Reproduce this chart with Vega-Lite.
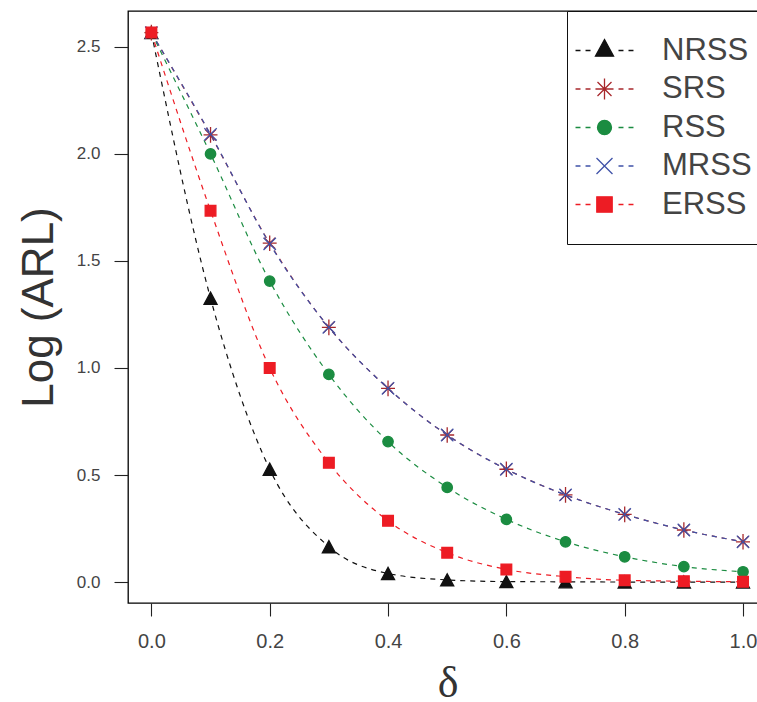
{
  "$schema": "https://vega.github.io/schema/vega-lite/v6.json",
  "width": 631,
  "height": 592,
  "autosize": {"type": "none"},
  "padding": {"left": 128, "top": 11, "right": 0, "bottom": 99},
  "background": "white",
  "config": {
    "font": "Liberation Sans",
    "view": {"stroke": "black", "strokeWidth": 1.3},
    "axis": {"grid": false, "domain": false, "tickColor": "#222", "tickWidth": 1.1, "labelColor": "#444", "titleColor": "#333", "titleFontWeight": "normal"},
    "legend": {
      "orient": "none", "legendX": 439, "legendY": 0, "title": null,
      "strokeColor": "#111", "fillColor": "white", "padding": 24,
      "labelFontSize": 31, "labelColor": "#444", "labelOffset": 42, "symbolOffset": -2,
      "rowPadding": 6.5, "symbolSize": 196, "symbolStrokeWidth": 1.3, "symbolOpacity": 1
    }
  },
  "data": {"values": [
    {"d": 0.0, "v": 2.567, "s": "NRSS"}, {"d": 0.1, "v": 1.326, "s": "NRSS"}, {"d": 0.2, "v": 0.527, "s": "NRSS"}, {"d": 0.3, "v": 0.165, "s": "NRSS"}, {"d": 0.4, "v": 0.04, "s": "NRSS"}, {"d": 0.5, "v": 0.01, "s": "NRSS"}, {"d": 0.6, "v": 0.002, "s": "NRSS"}, {"d": 0.7, "v": 0.001, "s": "NRSS"}, {"d": 0.8, "v": 0.0, "s": "NRSS"}, {"d": 0.9, "v": 0.0, "s": "NRSS"}, {"d": 1.0, "v": 0.0, "s": "NRSS"},
    {"d": 0.0, "v": 2.567, "s": "SRS"}, {"d": 0.1, "v": 2.089, "s": "SRS"}, {"d": 0.2, "v": 1.583, "s": "SRS"}, {"d": 0.3, "v": 1.19, "s": "SRS"}, {"d": 0.4, "v": 0.905, "s": "SRS"}, {"d": 0.5, "v": 0.687, "s": "SRS"}, {"d": 0.6, "v": 0.527, "s": "SRS"}, {"d": 0.7, "v": 0.407, "s": "SRS"}, {"d": 0.8, "v": 0.316, "s": "SRS"}, {"d": 0.9, "v": 0.243, "s": "SRS"}, {"d": 1.0, "v": 0.188, "s": "SRS"},
    {"d": 0.0, "v": 2.567, "s": "RSS"}, {"d": 0.1, "v": 2.0, "s": "RSS"}, {"d": 0.2, "v": 1.406, "s": "RSS"}, {"d": 0.3, "v": 0.97, "s": "RSS"}, {"d": 0.4, "v": 0.656, "s": "RSS"}, {"d": 0.5, "v": 0.442, "s": "RSS"}, {"d": 0.6, "v": 0.293, "s": "RSS"}, {"d": 0.7, "v": 0.188, "s": "RSS"}, {"d": 0.8, "v": 0.118, "s": "RSS"}, {"d": 0.9, "v": 0.072, "s": "RSS"}, {"d": 1.0, "v": 0.048, "s": "RSS"},
    {"d": 0.0, "v": 2.567, "s": "MRSS"}, {"d": 0.1, "v": 2.092, "s": "MRSS"}, {"d": 0.2, "v": 1.58, "s": "MRSS"}, {"d": 0.3, "v": 1.19, "s": "MRSS"}, {"d": 0.4, "v": 0.905, "s": "MRSS"}, {"d": 0.5, "v": 0.687, "s": "MRSS"}, {"d": 0.6, "v": 0.527, "s": "MRSS"}, {"d": 0.7, "v": 0.407, "s": "MRSS"}, {"d": 0.8, "v": 0.316, "s": "MRSS"}, {"d": 0.9, "v": 0.243, "s": "MRSS"}, {"d": 1.0, "v": 0.188, "s": "MRSS"},
    {"d": 0.0, "v": 2.567, "s": "ERSS"}, {"d": 0.1, "v": 1.735, "s": "ERSS"}, {"d": 0.2, "v": 1.0, "s": "ERSS"}, {"d": 0.3, "v": 0.557, "s": "ERSS"}, {"d": 0.4, "v": 0.286, "s": "ERSS"}, {"d": 0.5, "v": 0.137, "s": "ERSS"}, {"d": 0.6, "v": 0.059, "s": "ERSS"}, {"d": 0.7, "v": 0.025, "s": "ERSS"}, {"d": 0.8, "v": 0.008, "s": "ERSS"}, {"d": 0.9, "v": 0.004, "s": "ERSS"}, {"d": 1.0, "v": 0.001, "s": "ERSS"}
  ]},
  "encoding": {
    "x": {"field": "d", "type": "quantitative",
      "scale": {"domain": [-0.0395, 1.027], "nice": false, "zero": false},
      "axis": {"values": [0, 0.2, 0.4, 0.6, 0.8, 1.0], "format": ".1f", "tickSize": 13, "labelFontSize": 20, "labelPadding": 15, "title": "δ", "titleFont": "Liberation Serif", "titleFontSize": 44, "titlePadding": 10, "titleX": 319.5, "titleAnchor": "start", "titleAlign": "center", "labelFlush": false}},
    "y": {"field": "v", "type": "quantitative",
      "scale": {"domain": [-0.098, 2.668], "nice": false, "zero": false},
      "axis": {"values": [0, 0.5, 1.0, 1.5, 2.0, 2.5], "format": ".1f", "tickSize": 14, "labelFontSize": 17, "labelPadding": 14, "title": "Log (ARL)", "titleFontSize": 44, "titlePadding": 15}}
  },
  "resolve": {"scale": {"stroke": "independent", "fill": "independent", "shape": "independent"}},
  "layer": [
    {
      "mark": {"type": "line", "strokeDash": [5, 5], "strokeWidth": 1.2, "interpolate": "monotone"},
      "encoding": {
        "stroke": {"field": "s", "type": "nominal",
          "scale": {"domain": ["NRSS", "SRS", "RSS", "MRSS", "ERSS"], "range": ["#111111", "#a8282c", "#1b8c41", "#3f52a8", "#ed1c24"]},
          "legend": null}
      }
    },
    {
      "mark": {"type": "point", "size": 170, "strokeWidth": 1.3, "opacity": 1, "filled": false},
      "encoding": {
        "stroke": {"field": "s", "type": "nominal", "legend": null,
          "scale": {"domain": ["NRSS", "SRS", "RSS", "MRSS", "ERSS"], "range": ["#111111", "#a8282c", "#1b8c41", "#3f52a8", "#ed1c24"]}},
        "fill": {"field": "s", "type": "nominal", "legend": null,
          "scale": {"domain": ["NRSS", "SRS", "RSS", "MRSS", "ERSS"], "range": ["#111111", "transparent", "#1b8c41", "transparent", "#ed1c24"]}},
        "shape": {"field": "s", "type": "nominal", "legend": null,
          "scale": {"domain": ["NRSS", "SRS", "RSS", "MRSS", "ERSS"], "range": [
            "M0,-0.93L1,0.93L-1,0.93Z",
            "M-0.85,-0.85L0.85,0.85M-0.85,0.85L0.85,-0.85M0,-1.2V1.2M-1.07,0H1.07",
            "M0.8,0A0.8,0.8,0,1,1,-0.8,0A0.8,0.8,0,1,1,0.8,0Z",
            "M-0.95,-0.95L0.95,0.95M-0.95,0.95L0.95,-0.95",
            "M-0.82,-0.82H0.82V0.82H-0.82Z"]}}
      }
    },
    {
      "mark": {"type": "point", "size": 196, "strokeWidth": 1.3, "opacity": 0, "filled": false},
      "encoding": {
        "stroke": {"field": "s", "type": "nominal",
          "scale": {"domain": ["NRSS", "SRS", "RSS", "MRSS", "ERSS"], "range": ["#111111", "#a8282c", "#1b8c41", "#3f52a8", "#ed1c24"]}},
        "fill": {"field": "s", "type": "nominal",
          "scale": {"domain": ["NRSS", "SRS", "RSS", "MRSS", "ERSS"], "range": ["#111111", "transparent", "#1b8c41", "transparent", "#ed1c24"]}},
        "shape": {"field": "s", "type": "nominal",
          "scale": {"domain": ["NRSS", "SRS", "RSS", "MRSS", "ERSS"], "range": [
            "M0,-1.57L1.29,0.81L-1.29,0.81ZM-4.14,0H-3.43M-2.71,0H-2M2,0H2.71M3.43,0H4.14",
            "M-1,-1L1,1M-1,1L1,-1M0,-1.5V1.5M-1.29,0H1.29M-4.14,0H-3.43M-2.71,0H-2M2,0H2.71M3.43,0H4.14",
            "M1,0A1,1,0,1,1,-1,0A1,1,0,1,1,1,0ZM-4.14,0H-3.43M-2.71,0H-2M2,0H2.71M3.43,0H4.14",
            "M-1.14,-1.14L1.14,1.14M-1.14,1.14L1.14,-1.14M-4.14,0H-3.43M-2.71,0H-2M2,0H2.71M3.43,0H4.14",
            "M-1.1,-1.1H1.1V1.1H-1.1ZM-4.14,0H-3.43M-2.71,0H-2M2,0H2.71M3.43,0H4.14"]}}
      }
    }
  ]
}
